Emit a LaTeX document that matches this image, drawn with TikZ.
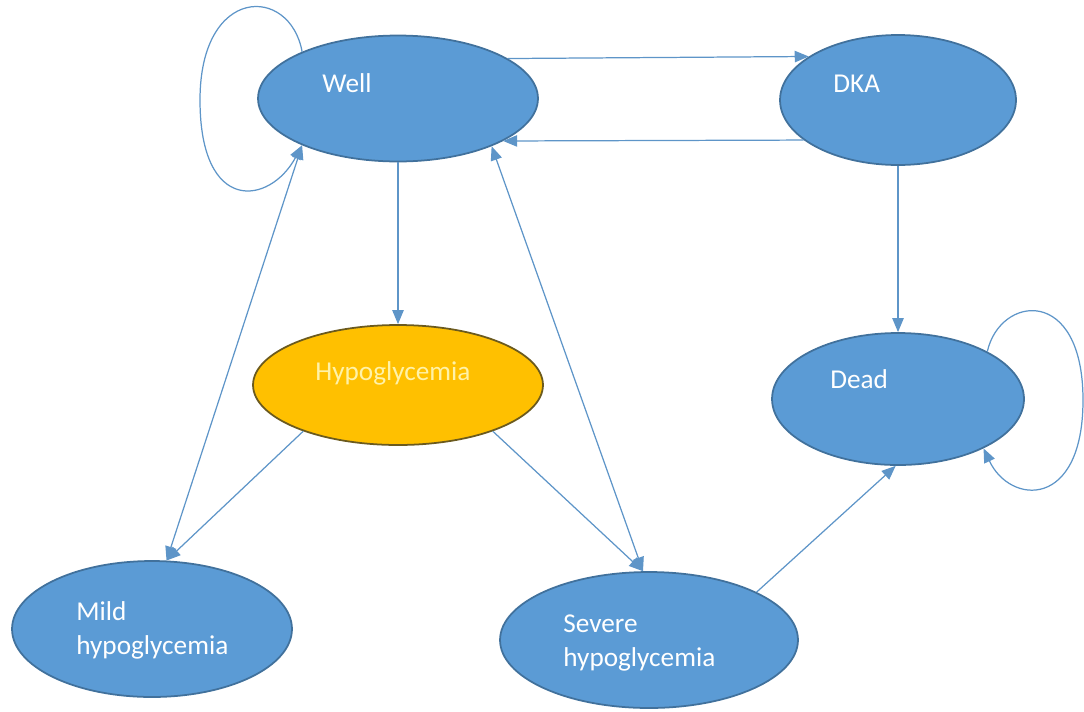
\documentclass[tikz,border=0pt]{standalone}
\usepackage{fontspec}
\setmainfont{Carlito}
\usepackage{tikz}
\usetikzlibrary{arrows.meta,shapes.geometric}
\definecolor{stblue}{HTML}{5B9BD5}
\definecolor{stedge}{HTML}{41719C}
\definecolor{hyfill}{HTML}{FFC000}
\definecolor{hyedge}{HTML}{6B5A1E}
\definecolor{hytext}{HTML}{FFF2A8}
\definecolor{lnblue}{HTML}{5E95C8}

\begin{document}
\begin{tikzpicture}[x=0.02cm,y=-0.02cm,
  state/.style={ellipse,draw=stedge,fill=stblue,line width=1pt,inner sep=0pt},
  hypo/.style={state,draw=hyedge,fill=hyfill},
  txt/.style={text=white,inner sep=0pt,font=\fontsize{15.5}{19.5}\selectfont},
  arr/.style={-{Triangle[length=8pt,width=6.5pt]},draw=lnblue,line width=0.7pt},
  darr/.style={{Triangle[length=8pt,width=6.5pt]}-{Triangle[length=8pt,width=6.5pt]},draw=lnblue,line width=0.7pt}]
\useasboundingbox (0,0) rectangle (1084,711);
% states
\node[state,minimum width=5.6cm,minimum height=2.52cm] (well) at (398,98.5) {};
\node[state,minimum width=4.72cm,minimum height=2.6cm] (dka) at (898,100) {};
\node[hypo,minimum width=5.8cm,minimum height=2.4cm] (hypo) at (398,385) {};
\node[state,minimum width=5.04cm,minimum height=2.64cm] (dead) at (898,399) {};
\node[state,minimum width=5.6cm,minimum height=2.72cm] (mild) at (152,629) {};
\node[state,minimum width=5.96cm,minimum height=2.72cm] (severe) at (649,640) {};
% labels
\node[txt,anchor=base west] (welltxt) at (322,92) {Well};
\node[txt,anchor=base west] (dkatxt) at (833,92) {DKA};
\node[txt,anchor=base west,text=hytext] (hypotxt) at (315,380) {Hypoglycemia};
\node[txt,anchor=base west] (deadtxt) at (830,388) {Dead};
\node[txt,anchor=west,align=left] (mildtxt) at (76,630) {Mild\\hypoglycemia};
\node[txt,anchor=west,align=left] (severetxt) at (563,643) {Severe\\hypoglycemia};
% transitions
\draw[arr] (well.20) -- (dka.154);
\draw[arr] (dka.-157) -- (well.-22);
\draw[arr] (well.south) -- (hypo.north);
\draw[arr] (dka.south) -- (dead.north);
\draw[arr] (hypo.-154) -- (mild.78);
\draw[darr] (mild.78) -- (well.-154);
\draw[arr] (hypo.-26) -- (severe.95);
\draw[darr] (severe.95) -- (well.-27);
\draw[arr] (severe.24) -- (dead.-92);
% self loops
\draw[arr] (well.154) .. controls (290,-15) and (200,-15) .. (200,100)
  .. controls (200,215) and (270,205) .. (well.-154);
\draw[arr] (dead.28) .. controls (1000,295) and (1083,285) .. (1083,400)
  .. controls (1083,510) and (1010,505) .. (dead.-30);
\end{tikzpicture}
\end{document}
